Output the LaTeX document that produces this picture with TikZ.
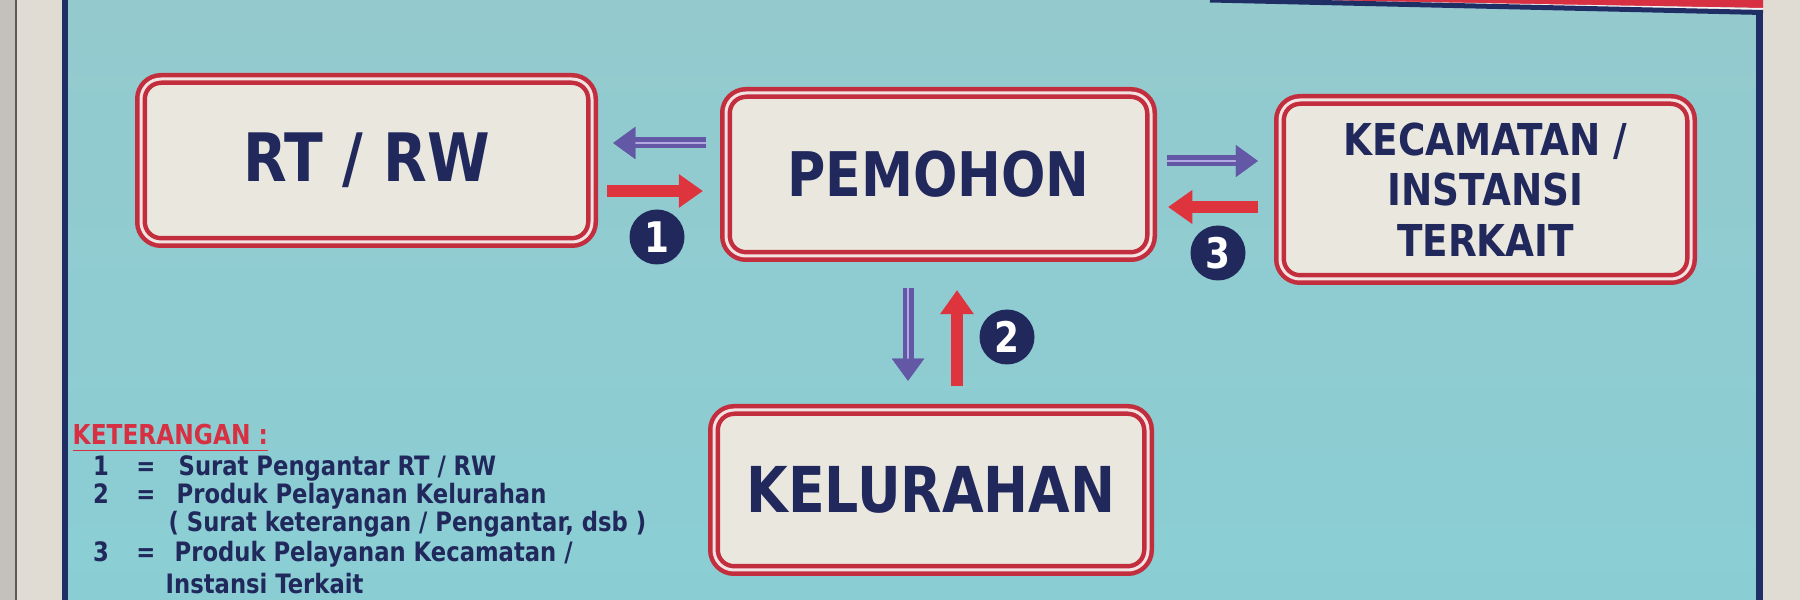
\documentclass[tikz,border=0pt]{standalone}
\usepackage{fontspec}
\newfontfamily\signfont[FakeStretch=0.85]{DejaVu Sans}
\usetikzlibrary{arrows.meta}

\definecolor{wallbeige}{RGB}{224,219,211}
\definecolor{wallgrey}{RGB}{196,192,186}
\definecolor{signtop}{RGB}{148,202,206}
\definecolor{signbot}{RGB}{138,206,212}
\definecolor{framenavy}{RGB}{32,46,102}
\definecolor{signnavy}{RGB}{33,40,92}
\definecolor{boxred}{RGB}{194,46,62}
\definecolor{gappink}{RGB}{242,226,226}
\definecolor{boxfill}{RGB}{234,231,223}
\definecolor{arrowred}{RGB}{222,52,62}
\definecolor{arrowpurple}{RGB}{98,88,165}
\definecolor{lavender}{RGB}{178,168,226}
\definecolor{keyred}{RGB}{214,48,66}

\tikzset{
  signbox/.style={draw=boxred, double=gappink, double distance=0.03cm,
    line width=0.045cm, rounded corners=0.2cm, fill=boxfill,
    text=signnavy, inner sep=0pt, align=center,
    font=\signfont\bfseries\fontsize{#1}{#1}\selectfont},
  numdot/.style={circle, fill=signnavy, text=white, inner sep=0pt,
    minimum size=0.55cm, font=\signfont\bfseries\fontsize{12}{12}\selectfont},
  redarrow/.style={draw=arrowred, line width=0.12cm,
    -{Triangle[width=0.34cm,length=0.24cm,line width=0pt]}},
  purplearrow/.style={draw=arrowpurple, line width=0.11cm,
    -{Triangle[width=0.32cm,length=0.22cm,line width=0pt]},
    postaction={draw=lavender, line width=0.025cm,
      -{Triangle[width=0.32cm,length=0.22cm,line width=0pt,color=arrowpurple]}}},
  legendtxt/.style={anchor=base west, inner sep=0pt, text=signnavy,
    font=\signfont\bfseries\fontsize{7.6}{9}\selectfont},
}

\begin{document}
\begin{tikzpicture}
            \def\Xnum{1.01};
            \def\Xeq{1.46};

            \def\Yka{1.25}; % row 1
            \def\Ykb{0.97}; % row 2
            \def\Ykc{0.68}; % row 2, second line
            \def\Ykd{0.38}; % row 3
            \def\Yke{0.07}; % row 3, second line

            \useasboundingbox (0,0) rectangle (18,6);

            % wall and sign board
            \fill[wallbeige] (0,0) rectangle (18,6);
            \fill[wallgrey] (0,0) rectangle (0.16,6);
            \draw[black!65, line width=0.4pt] (0.16,0) -- (0.16,6);
            \shade[top color=signtop, bottom color=signbot] (0.65,0) rectangle (17.6,6);

            % frame of the board
            \draw[framenavy, line width=0.06cm] (0.65,0) -- (0.65,6);
            \draw[framenavy, line width=0.07cm] (17.595,0) -- (17.595,5.88);
            \fill[keyred] (12.4,6) -- (17.63,6) -- (17.63,5.92) -- cycle;
            \draw[white!90!gray, line width=0.03cm] (12.2,6) -- (17.63,5.905);
            \draw[framenavy, line width=0.05cm] (12.1,6) -- (17.63,5.875);

            % boxes
            \node[signbox=19, minimum width=4.51cm, minimum height=1.63cm]
                (rtrw) at (3.665,4.395) {RT / RW};
            \node[signbox=17.5, minimum width=4.25cm, minimum height=1.63cm]
                (pemohon) at (9.385,4.255) {PEMOHON};
            \node[signbox=12.5, minimum width=4.11cm, minimum height=1.79cm,
                font=\signfont\bfseries\fontsize{12.5}{14.4}\selectfont]
                (kec) at (14.855,4.105) {KECAMATAN /\\INSTANSI\\TERKAIT};
            \node[signbox=18, minimum width=4.34cm, minimum height=1.60cm]
                (kel) at (9.31,1.10) {KELURAHAN};

            % 1 : pemohon and rt / rw
            \coordinate (p1a) at ([yshift=3.15mm]pemohon.west);
            \draw[purplearrow, shorten <=1.8mm, shorten >=1.9mm] (p1a) -- (p1a -| rtrw.east);
            \coordinate (p1b) at ([yshift=-3.05mm]rtrw.east);
            \draw[redarrow, shorten <=1.3mm, shorten >=2.1mm] (p1b) -- (p1b -| pemohon.west);
            \node[numdot] (n1) at (6.57,3.63) {1};

            % 2 : pemohon and kelurahan
            \coordinate (p2a) at ([xshift=-3.05mm]pemohon.south);
            \draw[purplearrow, shorten <=3mm, shorten >=2.7mm] (p2a) -- (p2a |- kel.north);
            \coordinate (p2b) at ([xshift=2.6mm]kel.north);
            \draw[redarrow, shorten <=2.2mm, shorten >=3.2mm] (p2b) -- (p2b |- pemohon.south);
            \node[numdot] (n2) at (10.07,2.63) {2};

            % 3 : pemohon and kecamatan
            \coordinate (p3a) at ([yshift=1.35mm]pemohon.east);
            \draw[purplearrow, shorten <=1.4mm, shorten >=2mm] (p3a) -- (p3a -| kec.west);
            \coordinate (p3b) at ([yshift=-1.75mm]kec.west);
            \draw[redarrow, shorten <=2mm, shorten >=1.5mm] (p3b) -- (p3b -| pemohon.east);
            \node[numdot] (n3) at (12.18,3.47) {3};

            % legend
            \node[legendtxt, text=keyred, font=\signfont\bfseries\fontsize{7.8}{9}\selectfont]
                (ket) at (0.72,1.55) {\underline{KETERANGAN :}};

            \node[legendtxt, anchor=base] (k1n) at (\Xnum,\Yka) {1};
            \node[legendtxt, anchor=base] (k1e) at (\Xeq,\Yka) {=};
            \node[legendtxt] (k1t) at (1.78,\Yka) {Surat Pengantar RT / RW};

            \node[legendtxt, anchor=base] (k2n) at (\Xnum,\Ykb) {2};
            \node[legendtxt, anchor=base] (k2e) at (\Xeq,\Ykb) {=};
            \node[legendtxt] (k2t) at (1.76,\Ykb) {Produk Pelayanan Kelurahan};
            \node[legendtxt] (k2s) at (1.68,\Ykc) {( Surat keterangan / Pengantar, dsb )};

            \node[legendtxt, anchor=base] (k3n) at (\Xnum,\Ykd) {3};
            \node[legendtxt, anchor=base] (k3e) at (\Xeq,\Ykd) {=};
            \node[legendtxt] (k3t) at (1.74,\Ykd) {Produk Pelayanan Kecamatan /};
            \node[legendtxt] (k3s) at (1.65,\Yke) {Instansi Terkait};

        \end{tikzpicture}
\end{document}
